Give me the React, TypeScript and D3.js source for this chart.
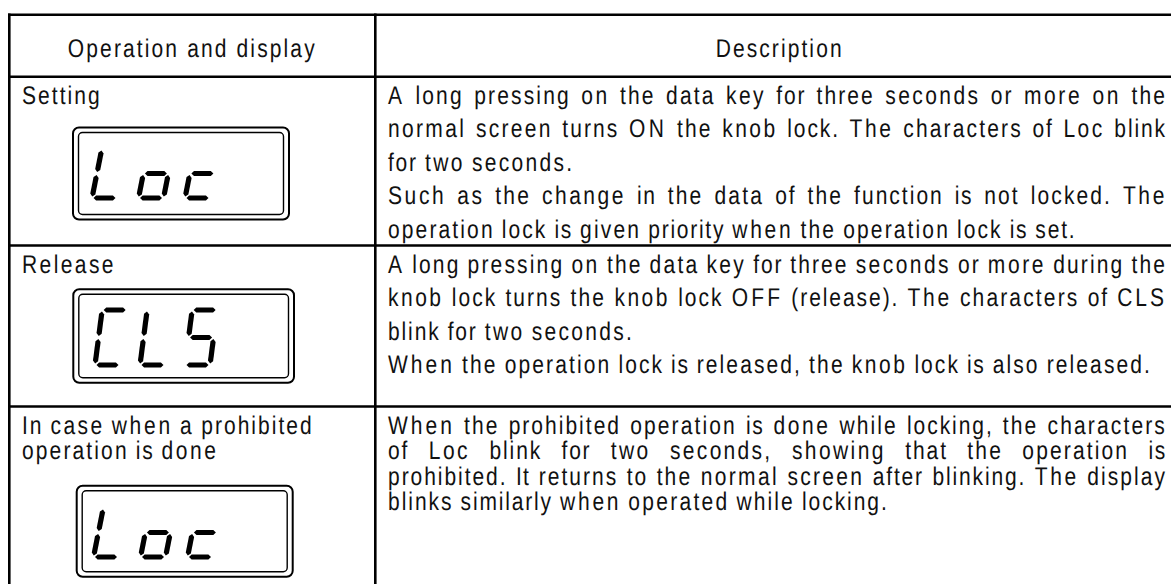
import React, { useMemo } from "react";
import * as d3 from "d3";

// table content
const headers = ["Operation and display", "Description"];
const labels = [["Setting"], ["Release"], ["In case when a prohibited", "operation is done"]];
const displays = ["Loc", "CLS", "Loc"];
// rows -> paragraphs -> lines (last line of a paragraph is not justified)
const descriptions = [
  [
    [
      "A long pressing on the data key for three seconds or more on the",
      "normal screen turns ON the knob lock. The characters of Loc blink",
      "for two seconds.",
    ],
    [
      "Such as the change in the data of the function is not locked. The",
      "operation lock is given priority when the operation lock is set.",
    ],
  ],
  [
    [
      "A long pressing on the data key for three seconds or more during the",
      "knob lock turns the knob lock OFF (release). The characters of CLS",
      "blink for two seconds.",
    ],
    ["When the operation lock is released, the knob lock is also released."],
  ],
  [
    [
      "When the prohibited operation is done while locking, the characters",
      "of Loc blink for two seconds, showing that the operation is",
      "prohibited. It returns to the normal screen after blinking. The display",
      "blinks similarly when operated while locking.",
    ],
  ],
];

// 7-segment glyphs
const SEGMENTS: Record<string, string> = { L: "def", o: "cdeg", c: "deg", C: "adef", S: "acdfg" };

const W = 1171;
const H = 584;
const colEdges = [9.3, 375.3, 1184];
const rowEdges = [14.7, 76.7, 245.5, 406.5, 760];
const rowLine = [33.5, 33.5, 25.5]; // line pitch per row
const FONT_SIZE = 25.6;
const NARROW = 0.82; // condensed look, Arial metrics kept
const METRIC_FONT = `${FONT_SIZE}px "Liberation Sans", Arial, sans-serif`;
const DRAW_FONT = `"Liberation Sans", Arial, sans-serif`;

const boxes = [
  { x: 73, y: 127.5, w: 216, h: 92, dx: 92, base: 198, dh: 49, slant: 0.2, pitch: 46.5, dw: 25 },
  { x: 73.3, y: 289.3, w: 220.7, h: 93.4, dx: 95, base: 365, dh: 55, slant: 0.13, pitch: 45, dw: 25 },
  { x: 76.7, y: 485.7, w: 216, h: 91, dx: 93.5, base: 557, dh: 49, slant: 0.2, pitch: 47, dw: 25 },
];

const hexLine = d3.line<[number, number]>().curve(d3.curveLinearClosed);

function segPolys(ch: string, b: any, i: number) {
  const segs = SEGMENTS[ch] || "";
  const g = 1.5;
  const Wd = b.dw;
  const Hd = b.dh;
  const x0 = b.dx + i * b.pitch;
  const map = (u: number, v: number): [number, number] => [x0 + u + b.slant * v, b.base - v];
  const defs: Record<string, [number, number, number, number]> = {
    a: [g, Hd, Wd - g, Hd],
    b: [Wd, Hd - g, Wd, Hd / 2 + g],
    c: [Wd, Hd / 2 - g, Wd, g],
    d: [g, 0, Wd - g, 0],
    e: [0, g, 0, Hd / 2 - g],
    f: [0, Hd / 2 + g, 0, Hd - g],
    g: [g, Hd / 2, Wd - g, Hd / 2],
  };
  const t = 2.6;
  return segs.split("").map((s) => {
    const [u1, v1, u2, v2] = defs[s];
    const p1 = map(u1, v1);
    const p2 = map(u2, v2);
    const len = Math.hypot(p2[0] - p1[0], p2[1] - p1[1]);
    const dx = (p2[0] - p1[0]) / len;
    const dy = (p2[1] - p1[1]) / len;
    const nx = -dy;
    const ny = dx;
    const pts: [number, number][] = [
      p1,
      [p1[0] + dx * t + nx * t, p1[1] + dy * t + ny * t],
      [p2[0] - dx * t + nx * t, p2[1] - dy * t + ny * t],
      p2,
      [p2[0] - dx * t - nx * t, p2[1] - dy * t - ny * t],
      [p1[0] + dx * t - nx * t, p1[1] + dy * t - ny * t],
    ];
    return hexLine(pts) as string;
  });
}

export default function App() {
  const measure = useMemo(() => {
    const ctx = document.createElement("canvas").getContext("2d")!;
    ctx.font = METRIC_FONT;
    return (s: string) => ctx.measureText(s).width;
  }, []);

  const words: { x: number; y: number; w: number; s: string; key: string }[] = [];

  const placeLine = (line: string, left: number, right: number, y: number, justify: boolean, key: string) => {
    const ws = line.split(" ");
    const widths = ws.map(measure);
    const total = d3.sum(widths);
    const gap = justify && ws.length > 1 ? (right - left - total) / (ws.length - 1) : measure(" ");
    let x = left;
    ws.forEach((w, i) => {
      words.push({ x, y, w: widths[i], s: w, key: `${key}-${i}` });
      x += widths[i] + gap;
    });
  };

  const centered = (s: string, cx: number, y: number, key: string) => {
    const w = measure(s);
    words.push({ x: cx - w / 2, y, w, s, key });
  };

  centered(headers[0], (colEdges[0] + colEdges[1]) / 2, 56.5, "h0");
  centered(headers[1], (colEdges[1] + colEdges[2]) / 2, 56.5, "h1");

  descriptions.forEach((paras, r) => {
    const top = rowEdges[r + 1] + 27;
    const lh = rowLine[r];
    labels[r].forEach((l, k) => placeLine(l, 22, 360, top + k * lh, false, `l${r}-${k}`));
    let n = 0;
    paras.forEach((lines, p) => {
      lines.forEach((line, k) => {
        placeLine(line, 388, 1167, top + n * lh, k < lines.length - 1, `d${r}-${p}-${k}`);
        n++;
      });
    });
  });

  return (
    <svg width={W} height={H} style={{ position: "absolute", left: 0, top: 0, background: "#fff" }}>
      {/* grid */}
      <g stroke="#000" strokeWidth={2.6} fill="none">
        {rowEdges.slice(0, 4).map((y, i) => (
          <line key={`r${i}`} x1={colEdges[0] - 1.3} x2={colEdges[2]} y1={y} y2={y} />
        ))}
        {colEdges.map((x, i) => (
          <line key={`c${i}`} x1={x} x2={x} y1={rowEdges[0] - 1.3} y2={rowEdges[4]} />
        ))}
      </g>

      {/* display boxes */}
      {boxes.map((b, r) => (
        <g key={`b${r}`}>
          <rect x={b.x} y={b.y} width={b.w} height={b.h} rx={6} fill="#fff" stroke="#000" strokeWidth={2} />
          <rect x={b.x + 5.5} y={b.y + 5} width={b.w - 11} height={b.h - 10} rx={4} fill="none" stroke="#000" strokeWidth={1.4} />
          {displays[r].split("").map((ch, i) =>
            segPolys(ch, b, i).map((d, j) => <path key={`s${r}-${i}-${j}`} d={d} fill="#000" />)
          )}
        </g>
      ))}

      {/* text */}
      <g fontFamily={DRAW_FONT} fontSize={FONT_SIZE} fill="#111" textRendering="geometricPrecision">
        {words.map((w) => {
          const extra = w.w / NARROW - w.w;
          const ls = extra / Math.max(1, w.s.length);
          return (
            <text
              key={w.key}
              transform={`translate(${w.x},${w.y}) scale(${NARROW},1)`}
              letterSpacing={ls}
            >
              {w.s}
            </text>
          );
        })}
      </g>
    </svg>
  );
}
